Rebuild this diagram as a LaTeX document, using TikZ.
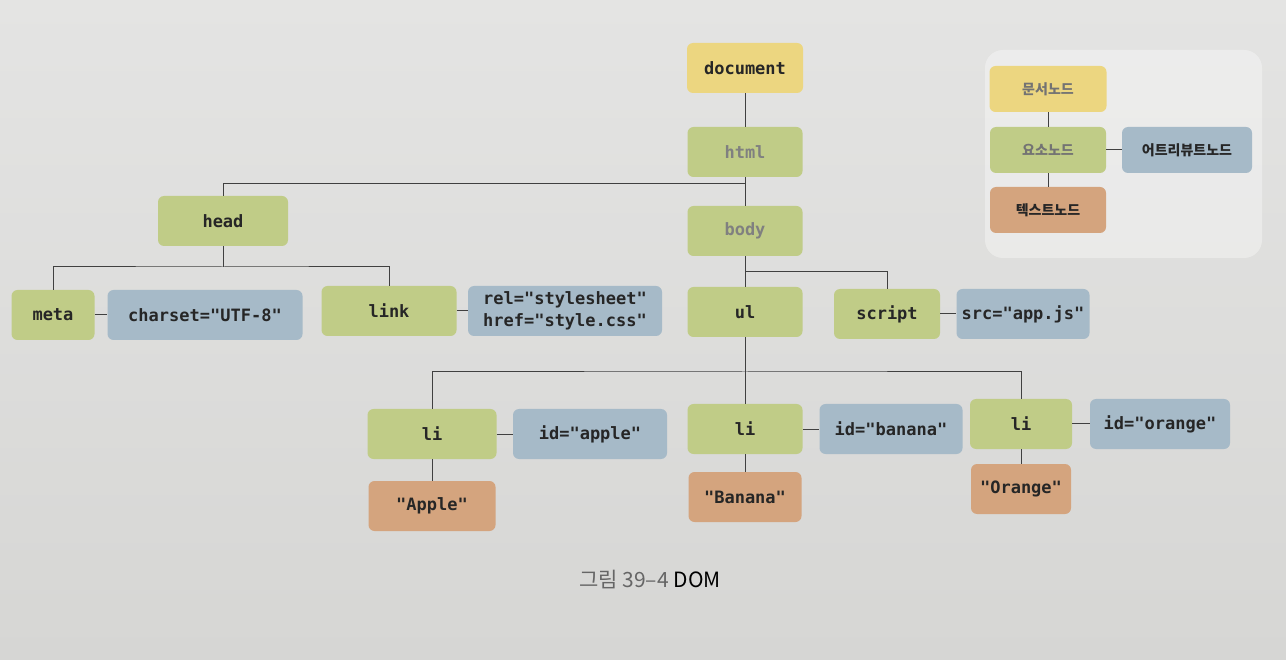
\documentclass[tikz,border=0pt]{standalone}
\usepackage{fontspec}
\setmonofont{DejaVu Sans Mono}
\newfontfamily\krfont{Noto Sans CJK KR}
\definecolor{papertop}{RGB}{228,228,227}
\definecolor{paperbot}{RGB}{214,214,212}
\definecolor{docyellow}{RGB}{236,214,128}
\definecolor{elemgreen}{RGB}{192,204,135}
\definecolor{attrblue}{RGB}{166,186,200}
\definecolor{textorange}{RGB}{212,164,126}
\tikzset{
	nodebox/.style={rounded corners=6pt, minimum height=50pt, inner sep=3pt, align=center,
		font=\ttfamily\bfseries\fontsize{17}{22}\selectfont, text=black!85},
	docnode/.style={nodebox, fill=docyellow},
	elemnode/.style={nodebox, fill=elemgreen},
	attrnode/.style={nodebox, fill=attrblue},
	textnode/.style={nodebox, fill=textorange},
	legendnode/.style={font=\krfont\bfseries\fontsize{14}{16}\selectfont, minimum height=46pt},
	wire/.style={draw=black!75, line width=1pt},
}
\begin{document}
\begin{tikzpicture}[x=1pt,y=-1pt]
	\shade[top color=papertop, bottom color=paperbot] (0,0) rectangle (1286,660);
	\useasboundingbox (0,0) rectangle (1286,660);
	\fill[white, opacity=.35, rounded corners=18pt] (985,50) rectangle (1262,258);
	% tree
	\node[docnode, minimum width=116pt] (document) at (745,68) {document};
	\node[elemnode, minimum width=115pt, text=black!50] (html) at (745,152) {html};
	\node[elemnode, minimum width=115pt, text=black!50] (body) at (745,231) {body};
	\node[elemnode, minimum width=130pt] (head) at (223,221) {head};
	\node[elemnode, minimum width=83pt] (meta) at (53,315) {meta};
	\node[attrnode, minimum width=195pt] (charset) at (205,315) {charset="UTF-8"};
	\node[elemnode, minimum width=135pt] (link) at (389,311) {link};
	\node[attrnode, minimum width=194pt] (relhref) at (565,311) {rel="stylesheet"\\href="style.css"};
	\node[elemnode, minimum width=115pt] (ul) at (745,312) {ul};
	\node[elemnode, minimum width=106pt] (script) at (887,314) {script};
	\node[attrnode, minimum width=133pt] (src) at (1023,314) {src="app.js"};
	\node[elemnode, minimum width=129pt] (liapple) at (432,434) {li};
	\node[attrnode, minimum width=154pt] (idapple) at (590,434) {id="apple"};
	\node[textnode, minimum width=127pt] (txtapple) at (432,506) {"Apple"};
	\node[elemnode, minimum width=115pt] (libanana) at (745,429) {li};
	\node[attrnode, minimum width=143pt] (idbanana) at (891,429) {id="banana"};
	\node[textnode, minimum width=113pt] (txtbanana) at (745,497) {"Banana"};
	\node[elemnode, minimum width=102pt] (liorange) at (1021,424) {li};
	\node[attrnode, minimum width=140pt] (idorange) at (1160,424) {id="orange"};
	\node[textnode, minimum width=100pt] (txtorange) at (1021,489) {"Orange"};
	\coordinate (htmlbar) at (745,184);
	\coordinate (headbar) at (223,267);
	\coordinate (bodybar) at (745,272);
	\coordinate (ulbar) at (745,372);
	\draw[wire] (document) -- (html);
	\draw[wire] (html) -- (body);
	\draw[wire] (head.north) |- (htmlbar);
	\draw[wire] (head) -- (headbar);
	\draw[wire] (meta.north) |- (headbar) -| (link.north);
	\draw[wire] (body) -- (ul);
	\draw[wire] (bodybar) -| (script.north);
	\draw[wire] (ul) -- (libanana);
	\draw[wire] (liapple.north) |- (ulbar) -| (liorange.north);
	\draw[wire] (meta) -- (charset);
	\draw[wire] (link) -- (relhref);
	\draw[wire] (script) -- (src);
	\draw[wire] (liapple) -- (idapple);
	\draw[wire] (libanana) -- (idbanana);
	\draw[wire] (liorange) -- (idorange);
	\draw[wire] (liapple) -- (txtapple);
	\draw[wire] (libanana) -- (txtbanana);
	\draw[wire] (liorange) -- (txtorange);
	% legend
	\node[docnode, legendnode, minimum width=117pt, text=black!55] (legdoc) at (1048,89) {문서노드};
	\node[elemnode, legendnode, minimum width=116pt, text=black!55] (legelem) at (1048,150) {요소노드};
	\node[attrnode, legendnode, minimum width=130pt] (legattr) at (1187,150) {어트리뷰트노드};
	\node[textnode, legendnode, minimum width=116pt] (legtext) at (1048,210) {텍스트노드};
	\draw[wire] (legdoc) -- (legelem);
	\draw[wire] (legelem) -- (legtext);
	\draw[wire] (legelem) -- (legattr);
	% caption
	\node[font=\krfont\fontsize{21}{24}\selectfont] (caption) at (650,580)
		{\textcolor{black!60}{그림 39–4} DOM};
\end{tikzpicture}
\end{document}
